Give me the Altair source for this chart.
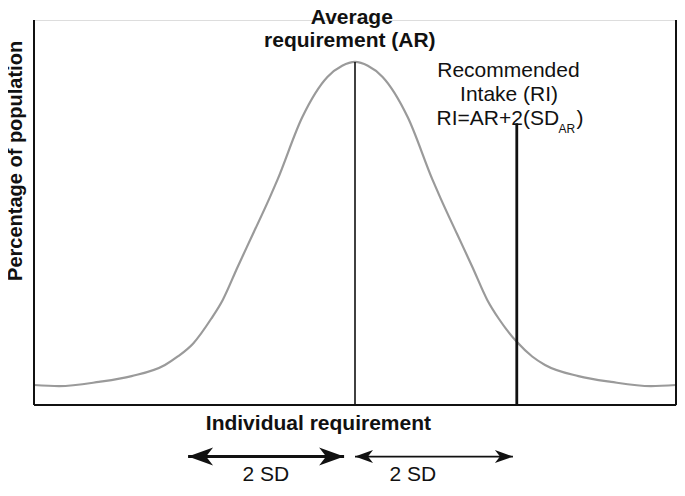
import altair as alt
import pandas as pd

# ---- data ----
curve_x = [0, 3.9, 10.1, 15.2, 20.4, 22.4, 24.8, 27.6, 29.4, 31.7, 34.1, 36.7, 37.9, 41.8, 45.7, 48.0, 50.0,
           52.0, 54.3, 58.2, 62.1, 63.3, 65.9, 68.3, 70.6, 72.4, 75.2, 77.6, 79.6, 84.8, 89.9, 96.1, 100]
curve_y = [5.2, 4.9, 6.0, 7.5, 10.4, 12.6, 16.0, 22.4, 27.3, 35.8, 44.4, 53.8, 58.4, 74.8, 85.2, 88.1, 89.1,
           88.1, 85.2, 74.8, 58.4, 53.8, 44.4, 35.8, 27.3, 22.4, 16.4, 12.6, 10.4, 7.5, 6.0, 4.9, 5.2]

ref_names = ["AR", "RI"]
ref_x = [50.0, 75.2]
ref_top = [89.1, 73.2]
ref_width = [1.6, 2.8]

frame_x = [0, 0, 100]
frame_x2 = [0, 100, 100]
frame_y = [0, 0, 0]
frame_y2 = [100, 0, 100]

arrow_start = [24.0, 50.0]
arrow_end = [48.3, 74.6]
arrow_y = [-13.4, -13.4]
arrow_shaft = [3.0, 1.8]
arrow_head = [2500, 1300]

SD_labels = ["2 SD", "2 SD"]
SD_x = [36.1, 59.0]
SD_y = [-19.7, -19.7]

FONT = "Liberation Sans"

curve_df = pd.DataFrame({"x": curve_x, "y": curve_y})
ref_df = pd.DataFrame({"name": ref_names, "x": ref_x, "y0": [0, 0], "top": ref_top, "w": ref_width})
frame_df = pd.DataFrame({"x": frame_x, "x2": frame_x2, "y": frame_y, "y2": frame_y2})
arrow_df = pd.DataFrame({"x0": arrow_start, "x1": arrow_end, "y": arrow_y, "w": arrow_shaft, "s": arrow_head})
sd_df = pd.DataFrame({"t": SD_labels, "x": SD_x, "y": SD_y})

xs = alt.Scale(domain=[0, 100], nice=False, zero=False)
ys = alt.Scale(domain=[0, 100], nice=False, zero=False)

def X(f):
    return alt.X(f, type="quantitative", scale=xs, axis=None)

def Y(f):
    return alt.Y(f, type="quantitative", scale=ys, axis=None)

curve = alt.Chart(curve_df).mark_line(color="#9a9a9a", strokeWidth=2.2, interpolate="monotone").encode(
    x=X("x"), y=Y("y"))

frame = alt.Chart(frame_df).mark_rule(color="#111111", strokeWidth=2).encode(
    x=X("x"), x2="x2", y=Y("y"), y2="y2")

refs = alt.Chart(ref_df).mark_rule(color="#111111").encode(
    x=X("x"), y=Y("y0"), y2="top", strokeWidth=alt.StrokeWidth("w:Q", scale=None))

shafts = alt.Chart(arrow_df).mark_rule(color="#111111").encode(
    x=X("x0"), x2="x1", y=Y("y"), strokeWidth=alt.StrokeWidth("w:Q", scale=None))

head_right = alt.Chart(arrow_df).mark_point(
    shape="M0,0 L-1,-0.36 L-0.72,0 L-1,0.36 Z", filled=True, color="#111111", opacity=1).encode(
    x=X("x1"), y=Y("y"), size=alt.Size("s:Q", scale=None))

head_left = alt.Chart(arrow_df).mark_point(
    shape="M0,0 L1,-0.36 L0.72,0 L1,0.36 Z", filled=True, color="#111111", opacity=1).encode(
    x=X("x0"), y=Y("y"), size=alt.Size("s:Q", scale=None))

sd_text = alt.Chart(sd_df).mark_text(font=FONT, fontSize=21, color="#111111", baseline="alphabetic").encode(
    x=X("x"), y=Y("y"), text="t:N")

def label(txt, x, y, size=21, weight="normal", align="center", angle=0):
    df = pd.DataFrame({"t": [txt], "x": [x], "y": [y]})
    kw = dict(font=FONT, fontSize=size, fontWeight=weight, align=align, baseline="alphabetic",
              color="#111111")
    if angle:
        kw["angle"] = angle
    return alt.Chart(df).mark_text(**kw).encode(x=X("x"), y=Y("y"), text="t:N")

texts = [
    label("Average", 49.5, 99.0, weight="bold"),
    label("requirement (AR)", 49.2, 93.0, weight="bold"),
    label("Recommended", 73.9, 85.2),
    label("Intake (RI)", 74.0, 79.0),
    label("RI=AR+2(SD", 62.7, 72.7, align="left"),
    label("AR", 81.7, 70.6, size=12, align="left"),
    label(")", 84.5, 72.7, align="left"),
    label("Individual requirement", 44.3, -6.5, weight="bold"),
    label("Percentage of population", -1.8, 63.4, size=20, weight="bold", angle=270),
]

chart = alt.layer(curve, frame, refs, shafts, head_right, head_left, sd_text, *texts).properties(
    width=642, height=385,
    autosize=alt.AutoSizeParams(type="none"),
    padding={"left": 26, "top": 12, "right": 1, "bottom": 77},
).configure_view(stroke=None).configure(background="white")

chart.save("out.html", embed_options={"renderer": "svg", "actions": False})
